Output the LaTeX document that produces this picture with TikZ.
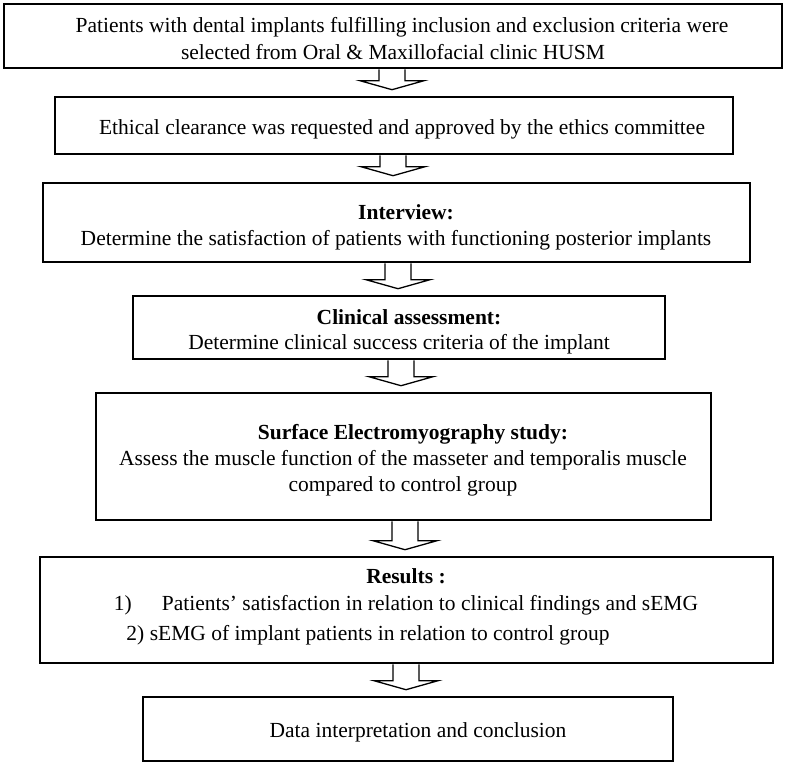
\documentclass[tikz,border=0pt]{standalone}
\usepackage{fontspec}
\setmainfont{Liberation Serif}
\usetikzlibrary{calc}
\begin{document}
\begin{tikzpicture}[x=1pt,y=-1pt,
  box/.style={draw, line width=2.6pt, rectangle, inner sep=0pt},
  txt/.style={anchor=base, inner sep=0pt, font=\fontsize{21.5}{26}\selectfont},
  btxt/.style={anchor=base, inner sep=0pt, font=\fontsize{21.5}{26}\selectfont\bfseries},
  barrow/.style={line width=1.3pt, line join=miter,
    to path={let \p1=(\tikztostart), \p2=(\tikztotarget) in
      (\x1-13pt,\y1) -- (\x1-13pt,\y2+15pt) -- (\x1-32pt,\y2+15pt) -- (\x1,\y2+6pt)
      -- (\x1+32pt,\y2+15pt) -- (\x1+13pt,\y2+15pt) -- (\x1+13pt,\y1)}}
]
\useasboundingbox (0,0) rectangle (786,766);

% boxes
\node[box, minimum width=778pt, minimum height=64pt] (b1) at (393,36) {};
\node[box, minimum width=678pt, minimum height=57pt] (b2) at (394,125.5) {};
\node[box, minimum width=707pt, minimum height=79pt] (b3) at (396.5,222.5) {};
\node[box, minimum width=532pt, minimum height=63pt] (b4) at (399,327.5) {};
\node[box, minimum width=615pt, minimum height=127pt] (b5) at (403.5,456.5) {};
\node[box, minimum width=733pt, minimum height=106pt] (b6) at (406.5,610) {};
\node[box, minimum width=530pt, minimum height=64pt] (b7) at (408,729) {};

% texts
\node[txt] (t1a) at (402,32) {Patients with dental implants fulfilling inclusion and exclusion criteria were};
\node[txt] (t1b) at (393,59) {selected from Oral \& Maxillofacial clinic HUSM};
\node[txt] (t2) at (402,134) {Ethical clearance was requested and approved by the ethics committee};
\node[btxt] (t3a) at (406,219) {Interview:};
\node[txt] (t3b) at (396,245) {Determine the satisfaction of patients with functioning posterior implants};
\node[btxt] (t4a) at (409,324) {Clinical assessment:};
\node[txt] (t4b) at (399,349) {Determine clinical success criteria of the implant};
\node[btxt] (t5a) at (413,439) {Surface Electromyography study:};
\node[txt] (t5b) at (403,465) {Assess the muscle function of the masseter and temporalis muscle};
\node[txt] (t5c) at (403,491) {compared to control group};
\node[btxt] (t6a) at (406,583) {Results :};
\node[txt] (t6b) at (406,610) {1)\hspace{30pt}Patients’ satisfaction in relation to clinical findings and sEMG};
\node[txt] (t6c) at (368,640) {2) sEMG of implant patients in relation to control group};
\node[txt] (t7) at (418,737) {Data interpretation and conclusion};

% block arrows
\draw[barrow] ($(b1.south)+(-1,0)$) to (b2.north);
\draw[barrow] ($(b2.south)+(-1,0)$) to (b3.north);
\draw[barrow] ($(b3.south)+(1.5,0)$) to (b4.north);
\draw[barrow] ($(b4.south)+(2,0)$) to (b5.north);
\draw[barrow] ($(b5.south)+(1.5,0)$) to (b6.north);
\draw[barrow] ($(b6.south)+(-0.5,0)$) to (b7.north);
\end{tikzpicture}
\end{document}
